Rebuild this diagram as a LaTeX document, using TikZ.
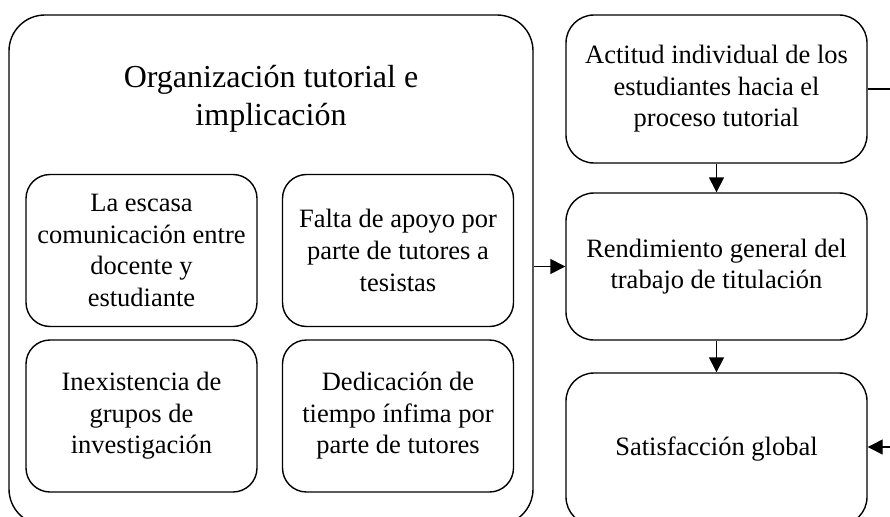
\documentclass[tikz,border=0pt]{standalone}
\usepackage{fontspec}
\setmainfont{Liberation Serif}
\usetikzlibrary{arrows.meta}
\begin{document}
\begin{tikzpicture}[x=1pt,y=-1pt,
  box/.style={draw,line width=1.4pt,align=center,inner sep=0pt,font=\fontsize{26.5}{31.6}\selectfont},
  outerbox/.style={box,rounded corners=36pt,minimum width=524pt,minimum height=510pt},
  innerbox/.style={box,rounded corners=24pt,minimum width=231pt,minimum height=152pt},
  rightbox/.style={box,rounded corners=28pt,minimum width=301pt,minimum height=148pt},
  arr/.style={line width=1.4pt,-{Triangle[length=15pt,width=15pt]}},
  ln/.style={line width=1.4pt}]
\path[use as bounding box,clip] (0,0) rectangle (890,516);
\node[outerbox] (outer) at (271,270) {};
\node[font=\fontsize{32}{38.5}\selectfont,align=center] (title) at (271,99) {Organización tutorial e\\implicación};
\node[innerbox] (b1) at (141.5,250.5) {La escasa\\comunicación entre\\docente y\\estudiante};
\node[innerbox] (b2) at (398,250.5) {Falta de apoyo por\\parte de tutores a\\tesistas};
\node[innerbox] (b3) at (141.5,416) {Inexistencia de\\grupos de\\investigación};
\node[innerbox] (b4) at (398,416) {Dedicación de\\tiempo ínfima por\\parte de tutores};
\node[rightbox] (act) at (716.5,89) {Actitud individual de los\\estudiantes hacia el\\proceso tutorial};
\node[rightbox,minimum height=147pt] (rend) at (716.5,266.5) {Rendimiento general del\\trabajo de titulación};
\node[rightbox,minimum height=152pt] (sat) at (716.5,449) {Satisfacción global};
\coordinate (r1) at (892,89);
\coordinate (r2) at (892,447);
\draw[arr] (act) -- (rend);
\draw[arr] (rend) -- (sat);
\draw[arr] (outer.east |- rend.west) -- (rend.west);
\draw[ln] (act.east) -- (r1);
\draw[arr] (r2) -- (sat.east |- r2);
\end{tikzpicture}
\end{document}
